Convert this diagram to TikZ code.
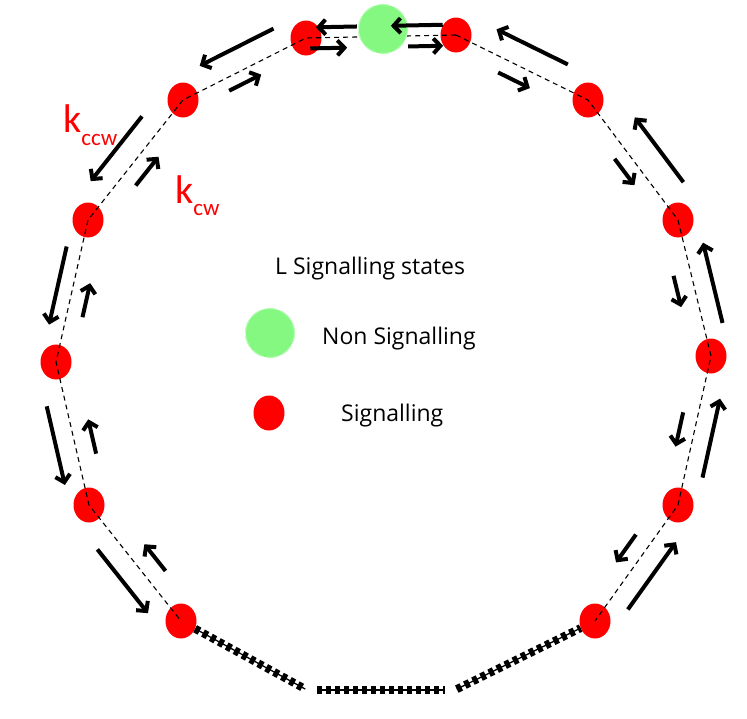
\documentclass[tikz,border=0pt]{standalone}
\usepackage{fontspec}
\setmainfont{Open Sans}
\newfontfamily\kfont{Carlito}
\usetikzlibrary{arrows.meta,calc,shapes.geometric}
\definecolor{sigred}{HTML}{FF0000}
\definecolor{nsgreen}{HTML}{84F880}
\tikzset{every node/.style={font=\fontsize{23}{26}\selectfont},
  sigstate/.style={ellipse,fill=sigred,minimum width=31pt,minimum height=35pt,inner sep=0pt},
  nsstate/.style={circle,fill=nsgreen,minimum size=49pt,inner sep=0pt,
    draw=nsgreen!60!white,line width=1.2pt,dash pattern=on 11pt off 5pt},
  ring/.style={draw=black,line width=1.1pt,dash pattern=on 5pt off 4pt},
  trackline/.style={draw=black,line width=1.3pt},
  track/.style={draw=black,line width=8pt,dash pattern=on 5pt off 4pt},
  kflow/.style={draw=black,line width=4pt,-{Straight Barb[length=7pt,width=15pt]}},
  klabel/.style={text=sigred,anchor=base west,inner sep=0pt,font=\kfont\fontsize{40}{40}\selectfont},
  legend/.style={anchor=base west,inner sep=0pt}}
\begin{document}
\begin{tikzpicture}[x=1pt,y=-1pt]
\useasboundingbox (0,0) rectangle (747,718);
\node[sigstate] (s0) at (456,35) {};
\node[sigstate] (s1) at (306,38) {};
\node[sigstate] (s2) at (183,100) {};
\node[sigstate] (s3) at (88,220) {};
\node[sigstate] (s4) at (56,362) {};
\node[sigstate] (s5) at (89,505) {};
\node[sigstate] (s6) at (181,621) {};
\node[sigstate] (s7) at (595,621) {};
\node[sigstate] (s8) at (678,505) {};
\node[sigstate] (s9) at (711,356) {};
\node[sigstate] (s10) at (678,220) {};
\node[sigstate] (s11) at (588,100) {};
\draw[ring] (s0.center)--(s1.center)--(s2.center)--(s3.center)--(s4.center)--(s5.center)--(s6.center);
\draw[ring] (s0.center)--(s11.center)--(s10.center)--(s9.center)--(s8.center)--(s7.center);
\node[nsstate] (g) at (383,29) {};
\coordinate (c1) at (307,690);\coordinate (c2) at (455,690);
\draw[trackline,shorten >=2pt] (s6)--(c1);\draw[track,shorten >=2pt] (s6)--(c1);
\draw[trackline,shorten <=10pt,shorten >=10pt] (c1)--(c2);\draw[track,shorten <=10pt,shorten >=10pt] (c1)--(c2);
\draw[trackline,shorten <=2pt] (c2)--(s7);\draw[track,shorten <=2pt] (c2)--(s7);
% counter-clockwise rates outside, clockwise rates inside
\draw[kflow] ($(s0)!.087!(s1)!10.5pt!-90:(s1)$)--($(s0)!.433!(s1)!10.5pt!-90:(s1)$);
\draw[kflow] ($(s0)!.66!(s1)!10.5pt!-90:(s1)$)--($(s0)!.933!(s1)!10.5pt!-90:(s1)$);
\draw[kflow] ($(s0)!.32!(s1)!10.5pt!90:(s1)$)--($(s0)!.087!(s1)!10.5pt!90:(s1)$);
\draw[kflow] ($(s0)!.973!(s1)!10.5pt!90:(s1)$)--($(s0)!.727!(s1)!10.5pt!90:(s1)$);
\draw[kflow] ($(s1)!.18!(s2)!23pt!-90:(s2)$)--($(s1)!.78!(s2)!23pt!-90:(s2)$);
\draw[kflow] ($(s1)!.67!(s2)!12.5pt!90:(s2)$)--($(s1)!.41!(s2)!12.5pt!90:(s2)$);
\draw[kflow] ($(s2)!.25!(s3)!22pt!-90:(s3)$)--($(s2)!.79!(s3)!22pt!-90:(s3)$);
\draw[kflow] ($(s2)!.63!(s3)!16pt!90:(s3)$)--($(s2)!.39!(s3)!16pt!90:(s3)$);
\draw[kflow] ($(s3)!.21!(s4)!15pt!-90:(s4)$)--($(s3)!.76!(s4)!15pt!-90:(s4)$);
\draw[kflow] ($(s3)!.66!(s4)!16pt!90:(s4)$)--($(s3)!.42!(s4)!16pt!90:(s4)$);
\draw[kflow] ($(s4)!.28!(s5)!19pt!-90:(s5)$)--($(s4)!.83!(s5)!19pt!-90:(s5)$);
\draw[kflow] ($(s4)!.67!(s5)!18.5pt!90:(s5)$)--($(s4)!.43!(s5)!18.5pt!90:(s5)$);
\draw[kflow] ($(s5)!.27!(s6)!21pt!-90:(s6)$)--($(s5)!.82!(s6)!21pt!-90:(s6)$);
\draw[kflow] ($(s5)!.67!(s6)!19pt!90:(s6)$)--($(s5)!.44!(s6)!19pt!90:(s6)$);
\draw[kflow] ($(s7)!.20!(s8)!20pt!-90:(s8)$)--($(s7)!.78!(s8)!20pt!-90:(s8)$);
\draw[kflow] ($(s7)!.66!(s8)!17pt!90:(s8)$)--($(s7)!.42!(s8)!17pt!90:(s8)$);
\draw[kflow] ($(s8)!.21!(s9)!18pt!-90:(s9)$)--($(s8)!.74!(s9)!18pt!-90:(s9)$);
\draw[kflow] ($(s8)!.60!(s9)!15pt!90:(s9)$)--($(s8)!.37!(s9)!15pt!90:(s9)$);
\draw[kflow] ($(s9)!.21!(s10)!19pt!-90:(s10)$)--($(s9)!.80!(s10)!19pt!-90:(s10)$);
\draw[kflow] ($(s9)!.62!(s10)!17.5pt!90:(s10)$)--($(s9)!.39!(s10)!17.5pt!90:(s10)$);
\draw[kflow] ($(s10)!.18!(s11)!27pt!-90:(s11)$)--($(s10)!.72!(s11)!27pt!-90:(s11)$);
\draw[kflow] ($(s10)!.58!(s11)!14pt!90:(s11)$)--($(s10)!.36!(s11)!14pt!90:(s11)$);
\draw[kflow] ($(s11)!.23!(s0)!23pt!-90:(s0)$)--($(s11)!.77!(s0)!23pt!-90:(s0)$);
\draw[kflow] ($(s11)!.63!(s0)!15pt!90:(s0)$)--($(s11)!.39!(s0)!15pt!90:(s0)$);
\node[klabel] (kccw) at (63,132) {k\raisebox{-13pt}{\fontsize{23}{23}\selectfont ccw}};
\node[klabel] (kcw) at (175,203) {k\raisebox{-12pt}{\fontsize{23}{23}\selectfont cw}};
\node[legend] (lgtitle) at (275,274) {L Signalling states};
\node[nsstate] (lgns) at (270,333) {};
\node[legend] (lgnstext) at (322,344) {Non Signalling};
\node[sigstate] (lgsig) at (269,413) {};
\node[legend] (lgsigtext) at (341,421) {Signalling};
\end{tikzpicture}
\end{document}
